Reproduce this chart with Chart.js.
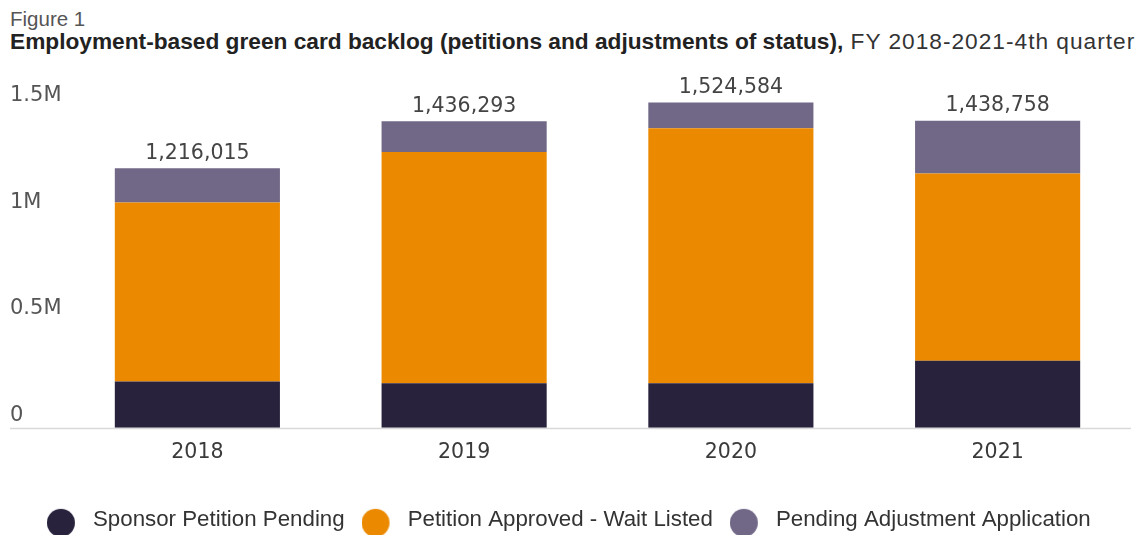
<!DOCTYPE html>
<html><head><meta charset="utf-8">
<script src="https://cdn.jsdelivr.net/npm/chart.js@4.4.0/dist/chart.umd.min.js"></script>
<style>
html,body{margin:0;padding:0;background:#fff;width:1141px;height:535px;overflow:hidden;position:relative}
#fig{position:absolute;left:10px;top:9px;font:20.5px/1 "Liberation Sans",Arial,sans-serif;color:#555;white-space:nowrap}
#title{position:absolute;left:10px;top:30px;font:22.7px/1 "Liberation Sans",Arial,sans-serif;color:#333;white-space:nowrap}
#title b{color:#222}
#title span{letter-spacing:1px}
#wrap{position:absolute;left:0;top:40px;width:1141px;height:501px}
</style></head><body>
<div id="fig">Figure 1</div>
<div id="title"><b>Employment-based green card backlog (petitions and adjustments of status),</b><span> FY 2018-2021-4th quarter</span></div>
<div id="wrap"><canvas id="c"></canvas></div>
<script>
const categories = ['2018', '2019', '2020', '2021'];
const seriesNames = ['Sponsor Petition Pending', 'Petition Approved - Wait Listed', 'Pending Adjustment Application'];
const sponsorPending = [216000, 208000, 208000, 314000];
const approvedWaitListed = [839000, 1084000, 1195000, 878000];
const pendingAdjustment = [161015, 144293, 121584, 246758];
const totalLabels = ['1,216,015', '1,436,293', '1,524,584', '1,438,758'];
const yTicks = [0, 500000, 1000000, 1500000];
const yTickLabels = ['0', '0.5M', '1M', '1.5M'];

const colors = ['#28223d', '#eb8a00', '#716887'];
const NUM_FONT = '"DejaVu Sans", Verdana, sans-serif';
const TXT_FONT = '"Liberation Sans", Arial, sans-serif';

function dot(color) {
  const c = document.createElement('canvas');
  c.width = 35; c.height = 34;
  const g = c.getContext('2d');
  g.fillStyle = color;
  g.beginPath(); g.arc(14, 20, 14, 0, Math.PI * 2); g.fill();
  return c;
}
const dots = colors.map(dot);

const totalsPlugin = {
  id: 'totals',
  afterDatasetsDraw(chart) {
    const ctx = chart.ctx;
    const meta = chart.getDatasetMeta(2);
    ctx.save();
    ctx.font = '20.5px ' + NUM_FONT;
    ctx.fillStyle = '#444';
    ctx.textAlign = 'center';
    ctx.textBaseline = 'middle';
    meta.data.forEach((bar, i) => ctx.fillText(totalLabels[i], bar.x, bar.y - 15));
    ctx.restore();
  }
};
const baselinePlugin = {
  id: 'baseline',
  beforeDatasetsDraw(chart) {
    const {ctx, chartArea, scales: {y}} = chart;
    const py = y.getPixelForValue(0) + 0.75;
    ctx.save();
    ctx.strokeStyle = '#d9d9d9';
    ctx.lineWidth = 1.5;
    ctx.beginPath(); ctx.moveTo(y.left, py); ctx.lineTo(chartArea.right, py); ctx.stroke();
    ctx.restore();
  }
};
const legendShift = {
  id: 'legendShift',
  afterLayout(chart) { if (chart.legend) chart.legend.left = 30; }
};

new Chart(document.getElementById('c'), {
  type: 'bar',
  data: {
    labels: categories,
    datasets: [
      {label: seriesNames[0], data: sponsorPending, backgroundColor: colors[0]},
      {label: seriesNames[1], data: approvedWaitListed, backgroundColor: colors[1]},
      {label: seriesNames[2], data: pendingAdjustment, backgroundColor: colors[2]}
    ]
  },
  options: {
    responsive: true,
    maintainAspectRatio: false,
    animation: false,
    datasets: {bar: {barPercentage: 0.619, categoryPercentage: 1, borderWidth: 0}},
    layout: {padding: {left: 10, right: 10, top: 25, bottom: 0}},
    scales: {
      x: {
        stacked: true,
        grid: {display: false, drawTicks: false},
        border: {display: false},
        ticks: {color: '#3a3a3a', font: {family: NUM_FONT, size: 20.5}, padding: 13, maxRotation: 0},
        afterFit(s) { s.height = 64; }
      },
      y: {
        stacked: true,
        min: 0, max: 1700000,
        grid: {display: false, drawTicks: false},
        border: {display: false},
        afterBuildTicks(s) { s.ticks = yTicks.map(v => ({value: v})); },
        ticks: {
          color: '#555', font: {family: NUM_FONT, size: 21}, crossAlign: 'far', labelOffset: -12,
          callback: (v) => { const i = yTicks.indexOf(v); return i >= 0 ? yTickLabels[i] : ''; }
        },
        afterFit(s) { s.width = 54; }
      }
    },
    plugins: {
      tooltip: {enabled: false},
      legend: {
        position: 'bottom',
        align: 'start',
        labels: {
          usePointStyle: true,
          pointStyleWidth: 34.85,
          padding: 17,
          color: '#333',
          font: {family: TXT_FONT, size: 22.3},
          generateLabels(chart) {
            return Chart.defaults.plugins.legend.labels.generateLabels(chart)
              .map((it, i) => Object.assign(it, {pointStyle: dots[i]}));
          }
        }
      }
    }
  },
  plugins: [baselinePlugin, totalsPlugin, legendShift]
});
</script>
</body></html>
